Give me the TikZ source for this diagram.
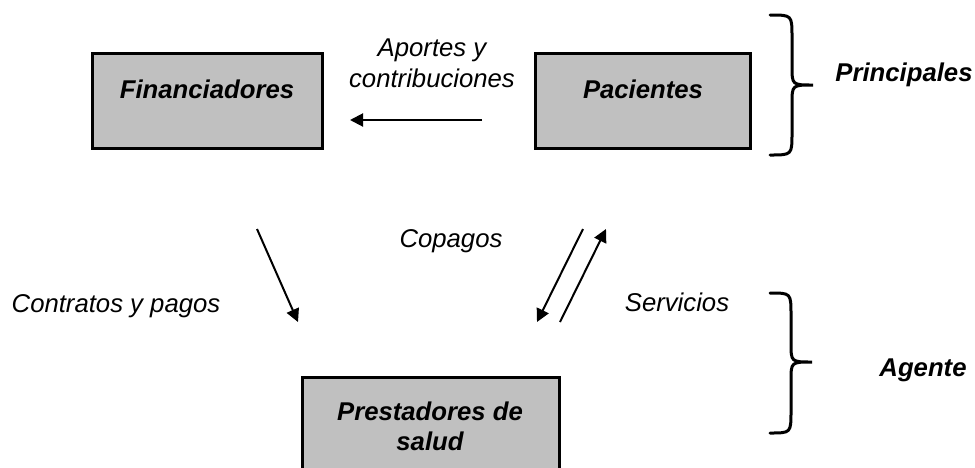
\documentclass[tikz,border=0pt]{standalone}
\usepackage{fontspec}
\setmainfont{Liberation Sans}
\usetikzlibrary{arrows.meta}
\tikzset{
  boxshape/.style={draw=black, line width=3pt, fill=boxgray},
  boxtext/.style={font=\fontsize{25.7}{30}\selectfont\bfseries\itshape, anchor=base, inner sep=0pt, align=center},
  lbl/.style={font=\fontsize{25.7}{31}\selectfont\itshape, anchor=base, inner sep=0pt, align=center},
  arr/.style={line width=2pt, -{Triangle[length=13pt,width=13pt]}},
  bracepath/.style={line width=3pt, line cap=round}
}
\definecolor{boxgray}{RGB}{192,192,192}
\begin{document}
\begin{tikzpicture}[x=1pt,y=-1pt]
\useasboundingbox (0,0) rectangle (975,467);
\begin{scope}
\clip (0,0) rectangle (975,467);
% boxes
\draw[boxshape] (92,53) rectangle (322,148);
\draw[boxshape] (535,53) rectangle (750,148);
\draw[boxshape] (302,377) rectangle (559,480);
\end{scope}
% box texts
\node[boxtext] (fin) at (207,98) {Financiadores};
\node[boxtext] (pac) at (643,98) {Pacientes};
\node[boxtext] (pre) at (430,450) {Prestadores de\\salud};
\node[boxtext] (princ) at (904,81) {Principales};
\node[boxtext] (agen) at (923,376) {Agente};
% labels
\node[lbl] (apor) at (432,87) {Aportes y\\contribuciones};
\node[lbl] (copa) at (451,247) {Copagos};
\node[lbl] (cont) at (116,312) {Contratos y pagos};
\node[lbl] (serv) at (677,311) {Servicios};
% arrow end coordinates
\coordinate (a1s) at (482,120);
\coordinate (a1e) at (350,120);
\coordinate (a2s) at (257,229);
\coordinate (a2e) at (298,322);
\coordinate (a3s) at (583,229);
\coordinate (a3e) at (537,322);
\coordinate (a4s) at (560,322);
\coordinate (a4e) at (606,229);
\draw[arr] (a1s) -- (a1e);
\draw[arr] (a2s) -- (a2e);
\draw[arr] (a3s) -- (a3e);
\draw[arr] (a4s) -- (a4e);
% braces
\draw[bracepath] (770,15) .. controls (792,15) .. (792,37) -- (792,66)
  .. controls (792,85) .. (813,85) .. controls (792,85) .. (792,104) -- (792,133)
  .. controls (792,155) .. (770,155);
\draw[bracepath] (770,293) .. controls (791,293) .. (791,315) -- (791,343)
  .. controls (791,362) .. (812,362) .. controls (791,362) .. (791,381) -- (791,411)
  .. controls (791,433) .. (770,433);
\end{tikzpicture}
\end{document}
